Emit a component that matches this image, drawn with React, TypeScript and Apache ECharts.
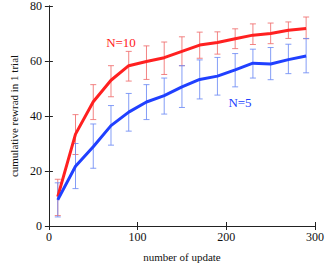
import React, { useEffect, useRef } from "react";
import * as echarts from "echarts";

const updates = [10, 30, 50, 70, 90, 110, 130, 150, 170, 190, 210, 230, 250, 270, 290];
const n10Mean = [10.7, 33.4, 45.2, 53, 58.3, 59.8, 61.2, 63.5, 65.8, 66.7, 68.1, 69.4, 70, 71.2, 71.8];
const n10Low = [3.8, 26, 38.7, 47, 52.7, 53.3, 55.1, 58.3, 61, 62.5, 64.5, 66, 66.3, 68.2, 68.1];
const n10High = [17, 40.5, 51.4, 58.3, 63.5, 65.5, 66.9, 68.8, 70.5, 70.6, 71.7, 73.5, 73.8, 74.2, 76];
const n5Mean = [9.5, 21.7, 28.8, 36.5, 41.4, 45.1, 47.4, 50.6, 53.3, 54.5, 56.8, 59.2, 58.9, 60.5, 61.8];
const n5Low = [3.3, 13.6, 21, 29.4, 34.5, 38.7, 40.7, 43.1, 46.2, 47.6, 50.6, 53.8, 53.2, 55.4, 55.7];
const n5High = [15.7, 30, 37.1, 43.8, 48.2, 51.4, 53.8, 58.3, 60.4, 61.3, 62.7, 64.3, 64.9, 66.1, 68.2];
const xTicks = [0, 100, 200, 300];
const yTicks = [0, 20, 40, 60, 80];

const FONT = "'Liberation Serif', 'Times New Roman', serif";

function errorSeries(low: number[], high: number[], color: string) {
  return {
    type: "custom",
    z: 1,
    data: updates.map((x, i) => [x, low[i], high[i]]),
    renderItem: (params: any, api: any) => {
      const x = api.value(0);
      const lo = api.coord([x, api.value(1)]);
      const hi = api.coord([x, api.value(2)]);
      const w = 3;
      const style = { stroke: color, lineWidth: 1 };
      return {
        type: "group",
        children: [
          { type: "line", shape: { x1: lo[0], y1: lo[1], x2: hi[0], y2: hi[1] }, style },
          { type: "line", shape: { x1: lo[0] - w, y1: lo[1], x2: lo[0] + w, y2: lo[1] }, style },
          { type: "line", shape: { x1: hi[0] - w, y1: hi[1], x2: hi[0] + w, y2: hi[1] }, style },
        ],
      };
    },
  };
}

export default function App() {
  const ref = useRef<HTMLDivElement>(null);
  useEffect(() => {
    const chart = echarts.init(ref.current!, null, { renderer: "svg" });
    const axisLine = { show: true, lineStyle: { color: "#222", width: 1 } };
    const axisTick = { show: true, inside: true, length: 4, lineStyle: { color: "#222" } };
    const labelStyle = { color: "#111", fontFamily: FONT, fontSize: 12 };
    chart.setOption({
      animation: false,
      backgroundColor: "#fff",
      grid: { left: 37, right: 9, top: 6, bottom: 37 },
      xAxis: [
        {
          type: "value", min: 0, max: 300, interval: 100, position: "bottom",
          axisLine, axisTick, splitLine: { show: false },
          axisLabel: { ...labelStyle, margin: 5, formatter: (v: number) => (xTicks.includes(v) ? String(v) : "") },
          name: "number of update", nameLocation: "middle", nameGap: 25,
          nameTextStyle: { color: "#111", fontFamily: FONT, fontSize: 11 },
        },
        {
          type: "value", min: 0, max: 300, interval: 100, position: "top",
          axisLine, axisTick, splitLine: { show: false }, axisLabel: { show: false },
        },
      ],
      yAxis: [
        {
          type: "value", min: 0, max: 80, interval: 20, position: "left",
          axisLine, axisTick, splitLine: { show: false },
          axisLabel: { ...labelStyle, margin: 7, formatter: (v: number) => (yTicks.includes(v) ? String(v) : "") },
          name: "cumulative rewrad in 1 trial", nameLocation: "middle", nameGap: 23,
          nameTextStyle: { color: "#111", fontFamily: FONT, fontSize: 11 },
        },
        {
          type: "value", min: 0, max: 80, interval: 20, position: "right",
          axisLine, axisTick, splitLine: { show: false }, axisLabel: { show: false },
        },
      ],
      series: [
        errorSeries(n10Low, n10High, "rgba(240,110,110,0.85)"),
        errorSeries(n5Low, n5High, "rgba(110,140,245,0.85)"),
        {
          type: "line", z: 3, data: updates.map((x, i) => [x, n10Mean[i]]),
          showSymbol: false, lineStyle: { color: "#ff2020", width: 3 },
        },
        {
          type: "line", z: 3, data: updates.map((x, i) => [x, n5Mean[i]]),
          showSymbol: false, lineStyle: { color: "#2040ff", width: 3 },
        },
      ],
      graphic: [
        { type: "text", x: 121, y: 42, style: { text: "N=10", fill: "#ff2020", fontFamily: FONT, fontSize: 13, align: "center", verticalAlign: "middle" } },
        { type: "text", x: 240, y: 102, style: { text: "N=5", fill: "#2040ff", fontFamily: FONT, fontSize: 13, align: "center", verticalAlign: "middle" } },
      ],
    });
    return () => chart.dispose();
  }, []);
  return <div ref={ref} style={{ width: 327, height: 267, position: "absolute", left: 0, top: 0 }} />;
}
